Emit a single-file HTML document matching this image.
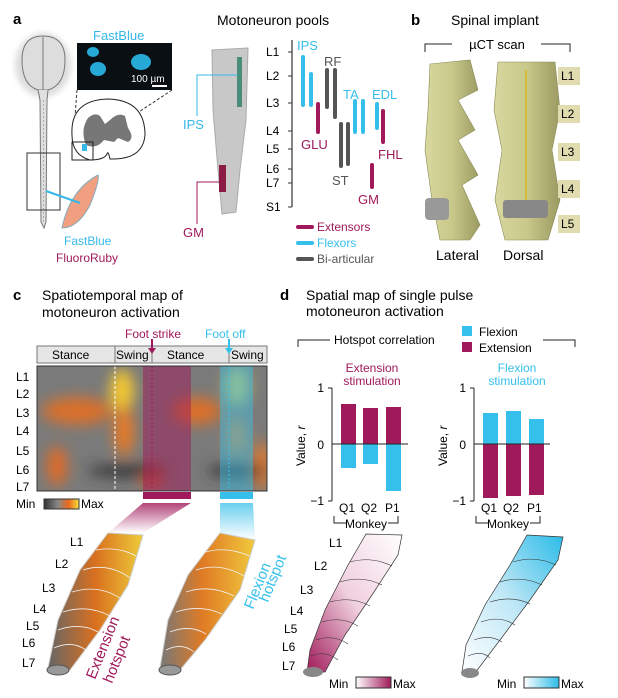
<!DOCTYPE html>
<html><head><meta charset="utf-8"><style>
body{margin:0;background:#fff}
svg{display:block;font-family:"Liberation Sans",sans-serif}
</style></head><body>
<svg width="618" height="698" viewBox="0 0 618 698" xmlns="http://www.w3.org/2000/svg">
<defs>
<filter id="bl" x="-50%" y="-50%" width="200%" height="200%"><feGaussianBlur stdDeviation="7"/></filter>
<filter id="bl2"><feGaussianBlur stdDeviation="3"/></filter>
<linearGradient id="mm" x1="0" x2="1"><stop offset="0" stop-color="#333"/><stop offset=".4" stop-color="#888"/><stop offset=".7" stop-color="#e86a1e"/><stop offset="1" stop-color="#f7e040"/></linearGradient>
<linearGradient id="mag" x1="0" x2="1"><stop offset="0" stop-color="#fff"/><stop offset="1" stop-color="#a0195a"/></linearGradient>
<linearGradient id="cy" x1="0" x2="1"><stop offset="0" stop-color="#fff"/><stop offset="1" stop-color="#2bbbe8"/></linearGradient>
<linearGradient id="shm" x1="0" y1="0" x2="0" y2="1"><stop offset="0" stop-color="#a0195a" stop-opacity=".8"/><stop offset="1" stop-color="#a0195a" stop-opacity="0"/></linearGradient>
<linearGradient id="shc" x1="0" y1="0" x2="0" y2="1"><stop offset="0" stop-color="#2bbbe8" stop-opacity=".7"/><stop offset="1" stop-color="#2bbbe8" stop-opacity="0"/></linearGradient>
<linearGradient id="c1" x1="0" y1="0" x2="1" y2="0"><stop offset="0" stop-color="#666"/><stop offset=".5" stop-color="#d9701f"/><stop offset="1" stop-color="#eecd3a"/></linearGradient>
<linearGradient id="c2" x1="0" y1="0" x2="1" y2="0"><stop offset="0" stop-color="#777"/><stop offset=".45" stop-color="#e07b25"/><stop offset="1" stop-color="#f0c93c"/></linearGradient>
<linearGradient id="d1" x1="1" y1="0" x2="0" y2="1"><stop offset="0" stop-color="#fff"/><stop offset=".5" stop-color="#f0d0de"/><stop offset="1" stop-color="#a0195a"/></linearGradient>
<linearGradient id="d2" x1="0" y1="1" x2="1" y2="0"><stop offset="0" stop-color="#fff"/><stop offset=".5" stop-color="#bfe7f6"/><stop offset="1" stop-color="#2bbbe8"/></linearGradient>
<linearGradient id="vert" x1="0" x2="1"><stop offset="0" stop-color="#d8d8a0"/><stop offset=".5" stop-color="#c8c88a"/><stop offset="1" stop-color="#9a9a62"/></linearGradient>
</defs>

<!-- Panel a -->
<text x="13" y="24" font-size="15" font-weight="bold">a</text>
<ellipse cx="43" cy="65" rx="28" ry="32" fill="#ddd" filter="url(#bl2)"/>
<path d="M22 60 Q22 36 43 36 Q65 36 65 60 Q65 85 48 90 L38 90 Q22 85 22 60Z" fill="#ddd" stroke="#777"/>
<line x1="43" y1="37" x2="43" y2="90" stroke="#777"/>
<path d="M38 90 L40 100 L41 222 L44 228 L46 222 L47 100 L48 90" fill="#e0e0e0" stroke="#777"/>
<line x1="43.5" y1="100" x2="43.5" y2="222" stroke="#aaa" stroke-dasharray="2 2"/>
<rect x="27" y="153" width="33" height="57" fill="none" stroke="#333"/>
<rect x="77" y="43" width="95" height="47" fill="#0a0f14"/>
<ellipse cx="93" cy="52" rx="6" ry="5" fill="#27a9d6"/><ellipse cx="98" cy="69" rx="8" ry="7" fill="#27a9d6"/><ellipse cx="141" cy="62" rx="10" ry="8" fill="#27a9d6"/>
<text x="131" y="82" font-size="10" fill="#fff">100 µm</text><line x1="152" y1="86" x2="167" y2="86" stroke="#fff" stroke-width="2"/>
<text x="93" y="40" font-size="13" fill="#35b7e8">FastBlue</text>
<line x1="77" y1="90" x2="73" y2="143" stroke="#333" stroke-dasharray="3 2"/><line x1="172" y1="90" x2="92" y2="143" stroke="#333" stroke-dasharray="3 2"/>
<path d="M72 135 Q70 100 108 99 Q145 100 145 135 Q143 160 110 159 Q108 150 107 154 Q104 160 90 160 Q72 155 72 135Z" fill="#fff" stroke="#222"/>
<path d="M88 118 Q95 112 100 116 L105 124 L110 120 Q118 112 125 116 L128 128 Q135 138 128 142 L118 138 L114 142 L104 140 Q96 150 86 145 Q80 130 88 118Z" fill="#777"/>
<rect x="82" y="144" width="5" height="7" fill="#35b7e8"/>
<rect x="72" y="142" width="21" height="18" fill="none" stroke="#222"/>
<path d="M62 228 Q70 190 98 175 Q100 180 90 205 Q78 228 62 228Z" fill="#f0a080" stroke="#8ab" stroke-width="1"/>
<line x1="46" y1="191" x2="80" y2="203" stroke="#35b7e8" stroke-width="2"/>
<text x="64" y="245" font-size="12" fill="#35b7e8">FastBlue</text>
<text x="56" y="262" font-size="12" fill="#a0195a">FluoroRuby</text>

<text x="217" y="25" font-size="14">Motoneuron pools</text>
<path d="M212 50 L248 48 L246 120 L240 170 L236 212 L222 214 L218 170 L213 110Z" fill="#c8c8c8" stroke="#aaa"/>
<rect x="237" y="57" width="5" height="50" fill="#4a8b7a"/>
<rect x="219" y="165" width="7" height="27" fill="#8b1a45"/>
<text x="183" y="129" font-size="13" fill="#35b7e8">IPS</text>
<polyline points="197,116 197,75 238,75" fill="none" stroke="#35b7e8"/>
<text x="183" y="237" font-size="13" fill="#a0195a">GM</text>
<polyline points="197,224 197,182 219,182" fill="none" stroke="#a0195a"/>

<g font-size="12">
<line x1="292" y1="40" x2="292" y2="207" stroke="#333" stroke-width="1.2"/>
<g stroke="#333"><line x1="288" y1="52" x2="292" y2="52"/><line x1="288" y1="76" x2="292" y2="76"/><line x1="288" y1="103" x2="292" y2="103"/><line x1="288" y1="131" x2="292" y2="131"/><line x1="288" y1="149" x2="292" y2="149"/><line x1="288" y1="169" x2="292" y2="169"/><line x1="288" y1="183" x2="292" y2="183"/><line x1="288" y1="207" x2="292" y2="207"/></g>
<text x="266" y="56">L1</text><text x="266" y="80">L2</text><text x="266" y="107">L3</text><text x="266" y="135">L4</text><text x="266" y="153">L5</text><text x="266" y="173">L6</text><text x="266" y="187">L7</text><text x="266" y="211">S1</text>
<g stroke-width="4" stroke-linecap="round">
<line x1="303" y1="57" x2="303" y2="105" stroke="#35c0ec"/><line x1="311" y1="74" x2="311" y2="105" stroke="#35c0ec"/>
<line x1="318" y1="104" x2="318" y2="132" stroke="#a0195a"/>
<line x1="327" y1="70" x2="327" y2="107" stroke="#555"/><line x1="335" y1="70" x2="335" y2="117" stroke="#555"/>
<line x1="341" y1="124" x2="341" y2="166" stroke="#555"/><line x1="348" y1="124" x2="348" y2="164" stroke="#555"/>
<line x1="355" y1="101" x2="355" y2="132" stroke="#35c0ec"/><line x1="363" y1="101" x2="363" y2="132" stroke="#35c0ec"/>
<line x1="377" y1="104" x2="377" y2="128" stroke="#35c0ec"/><line x1="383" y1="111" x2="383" y2="142" stroke="#a0195a"/>
<line x1="372" y1="165" x2="372" y2="187" stroke="#a0195a"/>
<line x1="298" y1="227" x2="312" y2="227" stroke="#a0195a"/><line x1="298" y1="243" x2="312" y2="243" stroke="#35c0ec"/><line x1="298" y1="259" x2="312" y2="259" stroke="#555"/>
</g>
<g font-size="13">
<text x="297" y="50" fill="#35c0ec">IPS</text><text x="324" y="66" fill="#555">RF</text><text x="343" y="99" fill="#35c0ec">TA</text><text x="372" y="99" fill="#35c0ec">EDL</text>
<text x="301" y="149" fill="#a0195a">GLU</text><text x="378" y="159" fill="#a0195a">FHL</text><text x="332" y="185" fill="#555">ST</text><text x="358" y="204" fill="#a0195a">GM</text>
</g>
<text x="317" y="231" fill="#a0195a">Extensors</text><text x="317" y="247" fill="#35c0ec">Flexors</text><text x="317" y="263" fill="#555">Bi-articular</text>
</g>

<!-- Panel b -->
<text x="411" y="25" font-size="15" font-weight="bold">b</text>
<text x="451" y="25" font-size="14">Spinal implant</text>
<polyline points="425,52 425,44 452,44" fill="none" stroke="#222"/><polyline points="541,44 570,44 570,52" fill="none" stroke="#222"/>
<text x="497" y="49" font-size="13" text-anchor="middle">µCT scan</text>
<path d="M430 64 L470 60 L478 90 L458 100 L475 130 L458 140 L478 175 L462 185 L480 225 L470 240 L440 240 L432 200 L425 150 L428 110Z" fill="url(#vert)" stroke="#8a8a55" stroke-width=".6"/>
<rect x="425" y="198" width="24" height="22" rx="4" fill="#999"/>
<path d="M498 62 L555 62 L560 110 L552 150 L560 200 L548 240 L505 240 L495 200 L502 150 L494 110Z" fill="url(#vert)" stroke="#8a8a55" stroke-width=".6"/>
<rect x="503" y="200" width="45" height="18" rx="3" fill="#888"/>
<line x1="526" y1="70" x2="526" y2="200" stroke="#d9b820" stroke-width="1.5"/>
<g font-size="12"><rect x="558" y="67" width="22" height="18" fill="#e0dcb0"/><text x="561" y="80">L1</text>
<rect x="558" y="105" width="22" height="18" fill="#e0dcb0"/><text x="561" y="118">L2</text>
<rect x="558" y="143" width="22" height="18" fill="#e0dcb0"/><text x="561" y="156">L3</text>
<rect x="558" y="180" width="22" height="18" fill="#e0dcb0"/><text x="561" y="193">L4</text>
<rect x="558" y="215" width="22" height="18" fill="#e0dcb0"/><text x="561" y="228">L5</text></g>
<text x="436" y="260" font-size="14">Lateral</text><text x="503" y="260" font-size="14">Dorsal</text>

<!-- Panel c -->
<text x="13" y="300" font-size="15" font-weight="bold">c</text>
<text x="42" y="300" font-size="14">Spatiotemporal map of</text><text x="42" y="317" font-size="14">motoneuron activation</text>
<text x="125" y="338" font-size="12" fill="#a0195a">Foot strike</text><text x="205" y="338" font-size="12" fill="#35c0ec">Foot off</text>
<rect x="37" y="346" width="230" height="17" fill="#e6e6e6" stroke="#777"/>
<line x1="115" y1="346" x2="115" y2="363" stroke="#777"/><line x1="152" y1="346" x2="152" y2="363" stroke="#777"/><line x1="229" y1="346" x2="229" y2="363" stroke="#777"/>
<g font-size="12"><text x="52" y="359">Stance</text><text x="116" y="359">Swing</text><text x="167" y="359">Stance</text><text x="231" y="359">Swing</text></g>
<svg x="37" y="366" width="230" height="125" overflow="hidden">
<rect width="230" height="125" fill="#7a7a7a"/>
<g filter="url(#bl)">
<ellipse cx="85" cy="25" rx="12" ry="22" fill="#f5c830"/><ellipse cx="40" cy="45" rx="35" ry="14" fill="#d9702a"/><ellipse cx="87" cy="65" rx="10" ry="25" fill="#e87a25"/>
<ellipse cx="20" cy="100" rx="10" ry="20" fill="#e06a25"/><ellipse cx="115" cy="110" rx="12" ry="14" fill="#d06030"/><ellipse cx="160" cy="45" rx="25" ry="14" fill="#d9702a"/>
<ellipse cx="200" cy="20" rx="12" ry="20" fill="#c8c060"/><ellipse cx="225" cy="100" rx="8" ry="25" fill="#e87a25"/><ellipse cx="200" cy="70" rx="10" ry="20" fill="#c88848"/>
<ellipse cx="90" cy="105" rx="40" ry="6" fill="#333"/><ellipse cx="200" cy="105" rx="30" ry="6" fill="#333"/>
</g>
<rect x="106" width="48" height="125" fill="#a0195a" opacity=".5"/>
<rect x="183" width="33" height="125" fill="#35c0ec" opacity=".45"/>
<line x1="78" y1="0" x2="78" y2="125" stroke="#fff" stroke-dasharray="3 2"/>
<line x1="115" y1="0" x2="115" y2="125" stroke="#a0195a" stroke-dasharray="2 2"/>
<line x1="192" y1="0" x2="192" y2="125" stroke="#35c0ec" stroke-dasharray="2 2"/>
</svg>
<rect x="37" y="366" width="230" height="125" fill="none" stroke="#333"/>
<line x1="152" y1="339" x2="152" y2="350" stroke="#a0195a" stroke-width="2"/><path d="M148 348 L156 348 L152 354Z" fill="#a0195a"/>
<line x1="229" y1="339" x2="229" y2="350" stroke="#35c0ec" stroke-width="2"/><path d="M225 348 L233 348 L229 354Z" fill="#35c0ec"/>
<g font-size="12"><text x="16" y="381">L1</text><text x="16" y="398">L2</text><text x="16" y="417">L3</text><text x="16" y="435">L4</text><text x="16" y="455">L5</text><text x="16" y="474">L6</text><text x="16" y="491">L7</text></g>
<rect x="143" y="492" width="48" height="7" fill="#a0195a"/><rect x="220" y="492" width="33" height="7" fill="#35c0ec"/>
<text x="16" y="508" font-size="12">Min</text><rect x="44" y="499" width="35" height="10" fill="url(#mm)" stroke="#333"/><text x="81" y="508" font-size="12">Max</text>
<path d="M143 503 L191 503 L143 533 L108 533Z" fill="url(#shm)"/>
<path d="M220 503 L253 503 L255 540 L220 535Z" fill="url(#shc)"/>
<path d="M108 533 L143 535 L128 585 L100 630 L70 670 L48 668 L58 620 L80 570Z" fill="url(#c1)" stroke="#ccc"/>
<path d="M220 533 L255 540 L240 590 L205 640 L180 670 L160 668 L168 620 L188 575Z" fill="url(#c2)" stroke="#ccc"/>
<g fill="none" stroke="#f2f2f2" stroke-width=".8">
<path d="M96 550 Q118 546 136 556"/><path d="M83 570 Q108 562 130 578"/><path d="M72 592 Q98 584 120 598"/><path d="M63 612 Q88 604 110 616"/><path d="M58 630 Q80 622 98 632"/><path d="M54 648 Q72 640 86 650"/>
<path d="M206 552 Q226 546 250 556"/><path d="M196 570 Q220 562 244 576"/><path d="M186 592 Q210 584 234 596"/><path d="M176 612 Q200 604 222 614"/><path d="M170 632 Q190 624 206 634"/><path d="M166 650 Q182 642 194 652"/>
</g>
<ellipse cx="58" cy="670" rx="11" ry="5" fill="#999" stroke="#555"/><ellipse cx="170" cy="670" rx="11" ry="5" fill="#999" stroke="#555"/>
<g font-size="12"><text x="70" y="546">L1</text><text x="55" y="568">L2</text><text x="42" y="592">L3</text><text x="33" y="613">L4</text><text x="26" y="630">L5</text><text x="22" y="647">L6</text><text x="22" y="667">L7</text></g>
<text transform="translate(95,680) rotate(-68)" font-size="15" fill="#a0195a">Extension</text>
<text transform="translate(112,684) rotate(-68)" font-size="15" fill="#a0195a">hotspot</text>
<text transform="translate(253,610) rotate(-68)" font-size="15" fill="#35c0ec">Flexion</text>
<text transform="translate(268,603) rotate(-68)" font-size="15" fill="#35c0ec">hotspot</text>

<!-- Panel d -->
<text x="280" y="300" font-size="15" font-weight="bold">d</text>
<text x="306" y="300" font-size="14">Spatial map of single pulse</text><text x="306" y="316" font-size="14">motoneuron activation</text>
<polyline points="298,347 298,340 330,340" fill="none" stroke="#222"/><polyline points="543,340 575,340 575,347" fill="none" stroke="#222"/>
<text x="334" y="344" font-size="12">Hotspot correlation</text>
<rect x="462" y="326" width="10" height="10" fill="#35c0ec"/><rect x="462" y="342" width="10" height="10" fill="#a0195a"/>
<text x="479" y="336" font-size="12">Flexion</text><text x="479" y="352" font-size="12">Extension</text>
<text x="372" y="372" font-size="12" fill="#a0195a" text-anchor="middle">Extension</text><text x="372" y="385" font-size="12" fill="#a0195a" text-anchor="middle">stimulation</text>
<text x="517" y="372" font-size="12" fill="#35c0ec" text-anchor="middle">Flexion</text><text x="517" y="385" font-size="12" fill="#35c0ec" text-anchor="middle">stimulation</text>
<g font-size="12">
<line x1="332" y1="388" x2="332" y2="501" stroke="#222"/><line x1="328" y1="388" x2="332" y2="388" stroke="#222"/><line x1="328" y1="501" x2="332" y2="501" stroke="#222"/>
<text x="324" y="392" text-anchor="end">1</text><text x="324" y="449" text-anchor="end">0</text><text x="324" y="505" text-anchor="end">−1</text>
<text transform="translate(305,466) rotate(-90)">Value, <tspan font-style="italic">r</tspan></text>
<rect x="341" y="404" width="15" height="40" fill="#a0195a"/><rect x="363" y="408" width="15" height="36" fill="#a0195a"/><rect x="386" y="407" width="15" height="37" fill="#a0195a"/>
<rect x="341" y="444" width="15" height="24" fill="#35c0ec"/><rect x="363" y="444" width="15" height="20" fill="#35c0ec"/><rect x="386" y="444" width="15" height="47" fill="#35c0ec"/>
<line x1="332" y1="444" x2="408" y2="444" stroke="#222"/>
<text x="339" y="512">Q1</text><text x="361" y="512">Q2</text><text x="385" y="512">P1</text>
<polyline points="334,516 334,523 346,523" fill="none" stroke="#222"/><polyline points="388,523 398,523 398,516" fill="none" stroke="#222"/><text x="345" y="528">Monkey</text>

<line x1="474" y1="388" x2="474" y2="501" stroke="#222"/><line x1="470" y1="388" x2="474" y2="388" stroke="#222"/><line x1="470" y1="501" x2="474" y2="501" stroke="#222"/>
<text x="466" y="392" text-anchor="end">1</text><text x="466" y="449" text-anchor="end">0</text><text x="466" y="505" text-anchor="end">−1</text>
<text transform="translate(447,466) rotate(-90)">Value, <tspan font-style="italic">r</tspan></text>
<rect x="483" y="413" width="15" height="31" fill="#35c0ec"/><rect x="506" y="411" width="15" height="33" fill="#35c0ec"/><rect x="529" y="419" width="15" height="25" fill="#35c0ec"/>
<rect x="483" y="444" width="15" height="54" fill="#a0195a"/><rect x="506" y="444" width="15" height="52" fill="#a0195a"/><rect x="529" y="444" width="15" height="51" fill="#a0195a"/>
<line x1="474" y1="444" x2="550" y2="444" stroke="#222"/>
<text x="481" y="512">Q1</text><text x="503" y="512">Q2</text><text x="527" y="512">P1</text>
<polyline points="476,516 476,523 488,523 " fill="none" stroke="#222"/><polyline points="530,523 540,523 540,516" fill="none" stroke="#222"/><text x="487" y="528">Monkey</text>
</g>
<path d="M366 534 L402 535 L398 555 L372 595 L345 635 L325 672 L307 672 L310 650 L325 610 L348 565Z" fill="url(#d1)" stroke="#333" stroke-width=".7"/>
<path d="M527 535 L563 537 L558 560 L530 600 L500 640 L475 673 L462 672 L466 645 L485 605 L510 565Z" fill="url(#d2)" stroke="#333" stroke-width=".7"/>
<g fill="none" stroke="#333" stroke-width=".6">
<path d="M350 562 Q372 556 392 566"/><path d="M340 582 Q362 575 382 585"/><path d="M330 602 Q352 596 370 606"/><path d="M322 622 Q342 616 358 626"/><path d="M316 640 Q334 634 348 644"/><path d="M311 656 Q326 650 338 660"/>
<path d="M513 562 Q535 555 556 565"/><path d="M500 582 Q522 575 542 585"/><path d="M490 602 Q512 595 530 604"/><path d="M481 622 Q500 615 515 625"/><path d="M474 640 Q490 634 502 642"/><path d="M468 656 Q482 650 490 658"/>
</g>
<ellipse cx="313" cy="672" rx="10" ry="5" fill="#888"/><ellipse cx="470" cy="673" rx="9" ry="5" fill="#888"/>
<g font-size="12"><text x="329" y="547">L1</text><text x="314" y="570">L2</text><text x="300" y="594">L3</text><text x="290" y="615">L4</text><text x="284" y="633">L5</text><text x="282" y="651">L6</text><text x="282" y="670">L7</text>
<text x="329" y="688">Min</text><rect x="356" y="677" width="35" height="11" fill="url(#mag)" stroke="#333"/><text x="393" y="688">Max</text>
<text x="497" y="688">Min</text><rect x="524" y="677" width="35" height="11" fill="url(#cy)" stroke="#333"/><text x="561" y="688">Max</text></g>
</svg>
</body></html>
